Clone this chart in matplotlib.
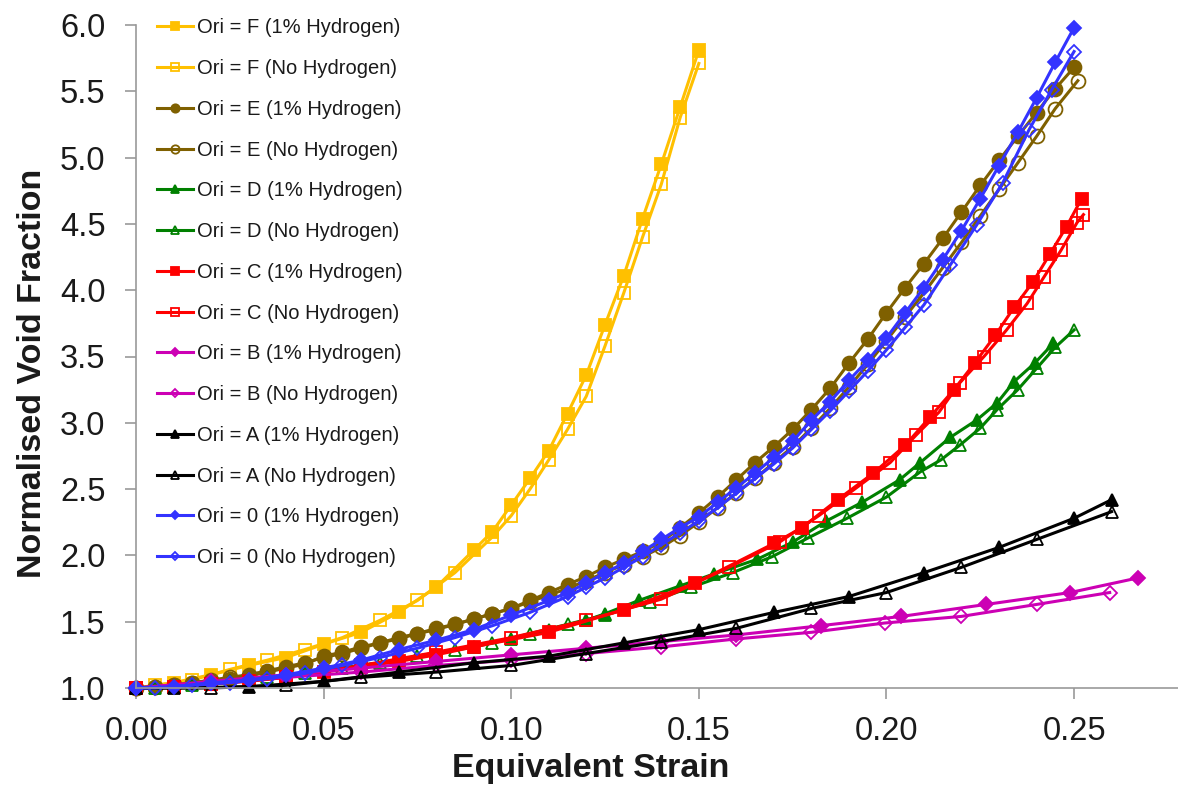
import matplotlib
matplotlib.use("Agg")
import matplotlib.pyplot as plt

plt.rcParams['font.family'] = ['Liberation Sans', 'DejaVu Sans']

# Ori = F
f_h_x = [0, 0.01, 0.02, 0.03, 0.04, 0.05, 0.06, 0.07, 0.08, 0.09, 0.095, 0.10, 0.105,
         0.11, 0.115, 0.12, 0.125, 0.13, 0.135, 0.14, 0.145, 0.15]
f_h_y = [1.0, 1.04, 1.10, 1.17, 1.23, 1.33, 1.42, 1.57, 1.76, 2.04, 2.18, 2.38, 2.58,
         2.79, 3.07, 3.36, 3.74, 4.11, 4.54, 4.95, 5.38, 5.81]
f_n_x = [0, 0.005, 0.015, 0.025, 0.035, 0.045, 0.055, 0.065, 0.075, 0.085, 0.095, 0.10,
         0.105, 0.11, 0.115, 0.12, 0.125, 0.13, 0.135, 0.14, 0.145, 0.15]
f_n_y = [1.0, 1.02, 1.06, 1.14, 1.21, 1.29, 1.38, 1.51, 1.66, 1.87, 2.14, 2.30,
         2.50, 2.72, 2.95, 3.20, 3.58, 3.98, 4.40, 4.80, 5.30, 5.71]

# Ori = E
e_x = [0, 0.005, 0.01, 0.015, 0.02, 0.025, 0.03, 0.035, 0.04, 0.045, 0.05, 0.055, 0.06,
       0.065, 0.07, 0.075, 0.08, 0.085, 0.09, 0.095, 0.10, 0.105, 0.11, 0.115, 0.12,
       0.125, 0.13, 0.135, 0.14, 0.145, 0.15, 0.155, 0.16, 0.165, 0.17, 0.175, 0.18,
       0.185, 0.19, 0.195, 0.20, 0.205, 0.21, 0.215, 0.22, 0.225, 0.23, 0.235, 0.24,
       0.245, 0.25]
e_h_y = [1.0, 1.01, 1.02, 1.04, 1.05, 1.07, 1.09, 1.12, 1.15, 1.18, 1.24, 1.27, 1.31,
         1.34, 1.38, 1.41, 1.45, 1.48, 1.52, 1.56, 1.60, 1.66, 1.72, 1.78, 1.84,
         1.91, 1.97, 2.03, 2.10, 2.21, 2.32, 2.44, 2.57, 2.70, 2.82, 2.95, 3.10,
         3.26, 3.45, 3.63, 3.83, 4.02, 4.20, 4.39, 4.59, 4.79, 4.98, 5.16, 5.34,
         5.52, 5.68]
e_n_x = e_x[:-1] + [0.251]
e_n_y = [1.0, 1.01, 1.02, 1.04, 1.06, 1.08, 1.10, 1.13, 1.16, 1.19, 1.23, 1.26, 1.30,
         1.34, 1.37, 1.41, 1.44, 1.48, 1.52, 1.56, 1.60, 1.65, 1.70, 1.75, 1.81,
         1.87, 1.93, 1.99, 2.06, 2.15, 2.25, 2.36, 2.47, 2.58, 2.70, 2.82, 2.96,
         3.11, 3.27, 3.44, 3.62, 3.80, 3.98, 4.17, 4.36, 4.56, 4.76, 4.96, 5.16,
         5.37, 5.58]

# Ori = D
d_h_x = [0, 0.01, 0.02, 0.03, 0.04, 0.05, 0.06, 0.07, 0.08, 0.09, 0.10, 0.11, 0.12,
         0.125, 0.134, 0.145, 0.154, 0.1655, 0.175, 0.184, 0.1935, 0.2035, 0.209,
         0.217, 0.224, 0.2295, 0.234, 0.2395, 0.2445]
d_h_y = [1.0, 1.01, 1.03, 1.06, 1.09, 1.13, 1.17, 1.21, 1.26, 1.31, 1.37, 1.44, 1.51,
         1.56, 1.66, 1.77, 1.86, 1.97, 2.10, 2.26, 2.40, 2.57, 2.70,
         2.89, 3.02, 3.15, 3.31, 3.45, 3.60]
d_n_x = [0, 0.005, 0.015, 0.025, 0.035, 0.045, 0.055, 0.065, 0.075, 0.085, 0.095, 0.105,
         0.115, 0.125, 0.137, 0.148, 0.159, 0.1695, 0.179, 0.1895, 0.200, 0.209, 0.2145,
         0.2195, 0.225, 0.2295, 0.235, 0.240, 0.245, 0.25]
d_n_y = [1.0, 1.0, 1.02, 1.05, 1.08, 1.11, 1.15, 1.19, 1.24, 1.29, 1.34, 1.41,
         1.48, 1.55, 1.65, 1.76, 1.87, 1.99, 2.13, 2.28, 2.44, 2.63, 2.72,
         2.83, 2.96, 3.10, 3.25, 3.41, 3.57, 3.70]

# Ori = C
c_h_x = [0, 0.01, 0.02, 0.03, 0.04, 0.05, 0.06, 0.07, 0.08, 0.09, 0.11, 0.13, 0.149,
         0.17, 0.1775, 0.187, 0.1965, 0.205, 0.2115, 0.218, 0.2235, 0.229, 0.234,
         0.239, 0.2435, 0.248, 0.252]
c_h_y = [1.0, 1.01, 1.03, 1.05, 1.08, 1.12, 1.16, 1.20, 1.25, 1.31, 1.42, 1.59, 1.79,
         2.09, 2.21, 2.42, 2.62, 2.83, 3.04, 3.25, 3.45, 3.66, 3.87,
         4.06, 4.27, 4.48, 4.69]
c_n_x = [0, 0.01, 0.02, 0.04, 0.06, 0.08, 0.10, 0.12, 0.14, 0.158, 0.1715, 0.182, 0.192,
         0.201, 0.208, 0.214, 0.2195, 0.226, 0.232, 0.2375, 0.242, 0.2465, 0.2508, 0.2525]
c_n_y = [1.0, 1.01, 1.03, 1.08, 1.17, 1.27, 1.38, 1.51, 1.67, 1.91, 2.10, 2.30, 2.51,
         2.70, 2.91, 3.08, 3.30, 3.50, 3.70, 3.90, 4.10, 4.30, 4.51, 4.57]

# Ori = B
b_h_x = [0, 0.02, 0.04, 0.06, 0.08, 0.10, 0.12, 0.14, 0.16, 0.1825, 0.204, 0.2265,
         0.249, 0.267]
b_h_y = [1.0, 1.05, 1.10, 1.15, 1.20, 1.25, 1.30, 1.35, 1.40, 1.47, 1.54, 1.63,
         1.72, 1.83]
b_n_x = [0, 0.02, 0.04, 0.06, 0.08, 0.10, 0.12, 0.14, 0.16, 0.18, 0.1995, 0.22, 0.24,
         0.2595]
b_n_y = [1.0, 1.04, 1.08, 1.12, 1.17, 1.21, 1.26, 1.31, 1.37, 1.42, 1.49, 1.54, 1.63,
         1.72]

# Ori = A
a_h_x = [0, 0.01, 0.03, 0.05, 0.07, 0.09, 0.11, 0.13, 0.15, 0.17, 0.19, 0.21, 0.23,
         0.25, 0.26]
a_h_y = [1.0, 1.0, 1.01, 1.05, 1.12, 1.19, 1.24, 1.34, 1.44, 1.57, 1.69, 1.87, 2.06,
         2.28, 2.42]
a_n_x = [0, 0.02, 0.04, 0.06, 0.08, 0.10, 0.12, 0.14, 0.16, 0.18, 0.20, 0.22, 0.24, 0.26]
a_n_y = [1.0, 1.0, 1.02, 1.08, 1.12, 1.17, 1.26, 1.35, 1.45, 1.60, 1.72, 1.91, 2.12, 2.33]

# Ori = 0
o_h_x = [0, 0.01, 0.02, 0.03, 0.04, 0.05, 0.06, 0.07, 0.08, 0.09, 0.10, 0.11, 0.115,
         0.12, 0.125, 0.13, 0.135, 0.14, 0.145, 0.15, 0.155, 0.16, 0.165, 0.17, 0.175,
         0.18, 0.185, 0.19, 0.195, 0.20, 0.205, 0.21, 0.215, 0.22, 0.225, 0.23, 0.235,
         0.24, 0.245, 0.25]
o_h_y = [1.0, 1.01, 1.04, 1.06, 1.10, 1.15, 1.21, 1.29, 1.36, 1.44, 1.55, 1.66, 1.72,
         1.79, 1.87, 1.94, 2.03, 2.12, 2.21, 2.29, 2.40, 2.51, 2.62, 2.74, 2.86,
         3.02, 3.16, 3.32, 3.47, 3.64, 3.83, 4.02, 4.23, 4.45, 4.69, 4.94, 5.19,
         5.45, 5.72, 5.98]
o_n_x = [0, 0.005, 0.015, 0.025, 0.035, 0.045, 0.055, 0.065, 0.075, 0.085, 0.095, 0.105,
         0.115, 0.12, 0.125, 0.13, 0.135, 0.14, 0.145, 0.15, 0.155, 0.16, 0.165, 0.17,
         0.175, 0.18, 0.185, 0.19, 0.195, 0.20, 0.205, 0.21, 0.217, 0.224, 0.231,
         0.238, 0.244, 0.25]
o_n_y = [1.0, 1.0, 1.02, 1.04, 1.07, 1.11, 1.17, 1.23, 1.30, 1.38, 1.47, 1.57,
         1.69, 1.76, 1.83, 1.91, 1.99, 2.08, 2.17, 2.26, 2.36, 2.47, 2.58, 2.69,
         2.81, 2.95, 3.09, 3.24, 3.39, 3.55, 3.72, 3.89, 4.19, 4.49, 4.81,
         5.21, 5.51, 5.80]

series = [
    ("Ori = F (1% Hydrogen)", f_h_x, f_h_y, "#FFC000", "s", True),
    ("Ori = F (No Hydrogen)", f_n_x, f_n_y, "#FFC000", "s", False),
    ("Ori = E (1% Hydrogen)", e_x, e_h_y, "#7F6000", "o", True),
    ("Ori = E (No Hydrogen)", e_n_x, e_n_y, "#7F6000", "o", False),
    ("Ori = D (1% Hydrogen)", d_h_x, d_h_y, "#008000", "^", True),
    ("Ori = D (No Hydrogen)", d_n_x, d_n_y, "#008000", "^", False),
    ("Ori = C (1% Hydrogen)", c_h_x, c_h_y, "#FF0000", "s", True),
    ("Ori = C (No Hydrogen)", c_n_x, c_n_y, "#FF0000", "s", False),
    ("Ori = B (1% Hydrogen)", b_h_x, b_h_y, "#CC00B4", "D", True),
    ("Ori = B (No Hydrogen)", b_n_x, b_n_y, "#CC00B4", "D", False),
    ("Ori = A (1% Hydrogen)", a_h_x, a_h_y, "#000000", "^", True),
    ("Ori = A (No Hydrogen)", a_n_x, a_n_y, "#000000", "^", False),
    ("Ori = 0 (1% Hydrogen)", o_h_x, o_h_y, "#3333FF", "D", True),
    ("Ori = 0 (No Hydrogen)", o_n_x, o_n_y, "#3333FF", "D", False),
]

fig = plt.figure(figsize=(11.78, 7.85), dpi=100)
ax = fig.add_axes([136 / 1178, 97 / 785, 1042 / 1178, 663 / 785])

for name, xs, ys, col, mk, filled in series:
    ms = 9 if mk != "D" else 7
    if mk == "o":
        ms = 10
    ax.plot(xs, ys, color=col, lw=2.2, marker=mk, markersize=ms,
            markerfacecolor=col if filled else "none", markeredgecolor=col,
            markeredgewidth=1.3, label=name, clip_on=False)

ax.set_xlim(0, 0.2777)
ax.set_ylim(1.0, 6.0)
ax.set_xticks([0, 0.05, 0.10, 0.15, 0.20, 0.25])
ax.set_xticklabels(["0.00", "0.05", "0.10", "0.15", "0.20", "0.25"])
ax.set_yticks([1.0, 1.5, 2.0, 2.5, 3.0, 3.5, 4.0, 4.5, 5.0, 5.5, 6.0])
ax.set_yticklabels(["1.0", "1.5", "2.0", "2.5", "3.0", "3.5", "4.0", "4.5", "5.0", "5.5", "6.0"])

for s in ["top", "right"]:
    ax.spines[s].set_visible(False)
for s in ["left", "bottom"]:
    ax.spines[s].set_color("#999999")
    ax.spines[s].set_linewidth(1.2)
ax.tick_params(axis="both", direction="out", length=8, width=1.2, color="#999999",
               labelsize=23.5, labelcolor="#1a1a1a")
ax.tick_params(axis="y", pad=14)
ax.tick_params(axis="x", pad=12)

ax.set_xlabel("Equivalent Strain", fontsize=24.5, fontweight="bold", color="#1a1a1a")
ax.set_ylabel("Normalised Void Fraction", fontsize=24.5, fontweight="bold", color="#1a1a1a")
ax.xaxis.set_label_coords(0.436, -0.098)
ax.yaxis.set_label_coords(-0.084, 0.474)

leg = ax.legend(loc="upper left", bbox_to_anchor=(0.02, 1.010), frameon=False,
                fontsize=14.5, handlelength=1.8, handletextpad=0.2, labelspacing=1.08,
                borderpad=0, borderaxespad=0, markerscale=0.6)
for t in leg.get_texts():
    t.set_color("#1a1a1a")

fig.savefig("out.png", dpi=100)
